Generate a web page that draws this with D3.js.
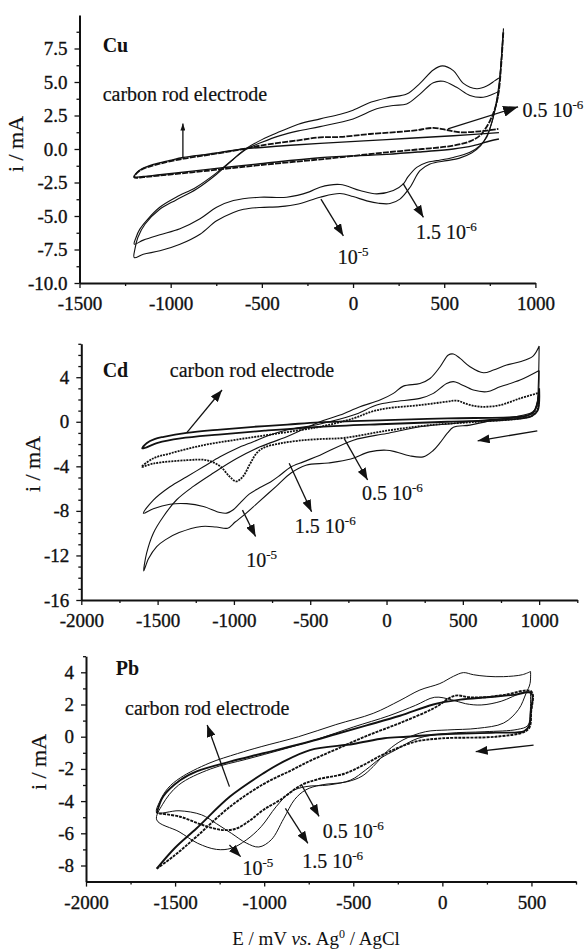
<!DOCTYPE html>
<html>
<head>
<meta charset="utf-8">
<script src="https://cdn.jsdelivr.net/npm/d3@7"></script>
<style>
  body { margin: 0; background: #fff; }
  text { font-family: "Liberation Serif", "Times New Roman", serif; fill: #111; }
</style>
</head>
<body>
<div id="chart"></div>
<script>
// ---------- data: each curve is a list of [E (mV), i (mA)] points ----------

// Cu
const cuCarbon = [[800,0.75],[750,0.6],[660,0.25],[550,0.0],[380,-0.2],[184,-0.4],[-181,-0.65],[-510,-1.1],[-784,-1.5],[-1059,-1.92],[-1150,-2.05],[-1200,-2.07],[-1185,-1.75],[-1160,-1.5],[-1095,-1.15],[-1004,-0.85],[-931,-0.63],[-785,-0.37],[-602,0.0],[-400,0.22],[-181,0.42],[184,0.7],[550,0.99],[800,1.22]];
const cu05 = [[824,8.7],[812,6.2],[798,4.2],[780,3.1],[751,2.1],[720,1.4],[696,1.0],[641,0.57],[550,0.25],[380,0.0],[184,-0.25],[-163,-0.75],[-510,-1.2],[-784,-1.6],[-1059,-1.98],[-1150,-2.1],[-1200,-2.12],[-1180,-1.72],[-1140,-1.42],[-1060,-1.1],[-930,-0.72],[-785,-0.42],[-600,0.0],[-510,0.25],[-300,0.65],[-181,0.87],[-71,0.9],[93,1.12],[330,1.37],[440,1.57],[513,1.42],[586,1.25],[696,1.32],[797,1.5]];
const cu15 = [[822,8.6],[812,6.5],[797,4.1],[780,3.0],[769,2.4],[750,1.5],[733,0.87],[696,0.25],[641,-0.25],[550,-0.63],[459,-0.87],[404,-1.0],[349,-1.37],[300,-2.1],[276,-2.6],[221,-3.1],[130,-3.35],[38,-3.1],[-71,-2.65],[-181,-2.85],[-240,-3.2],[-364,-3.6],[-510,-3.6],[-656,-3.85],[-748,-4.35],[-839,-5.2],[-949,-5.95],[-1059,-6.4],[-1150,-6.8],[-1200,-7.1],[-1190,-6.6],[-1170,-6.0],[-1130,-5.3],[-1060,-4.35],[-970,-3.6],[-860,-2.85],[-750,-1.8],[-660,-0.8],[-590,-0.05],[-500,0.5],[-400,1.0],[-300,1.35],[-181,1.67],[0,2.24],[130,3.0],[220,3.25],[294,3.36],[367,4.1],[440,4.95],[495,5.05],[568,4.6],[641,4.0],[714,3.86],[769,4.1],[800,4.3]];
const cu1e5 = [[825,9.0],[814,6.8],[800,4.8],[783,3.3],[762,2.0],[735,1.0],[700,0.25],[650,-0.3],[580,-0.7],[514,-0.87],[422,-1.12],[367,-1.62],[312,-2.87],[257,-3.74],[203,-4.07],[140,-4.05],[75,-3.87],[0,-3.55],[-72,-3.32],[-181,-3.6],[-300,-4.1],[-400,-4.3],[-510,-4.36],[-600,-4.5],[-656,-4.74],[-748,-5.36],[-839,-6.36],[-949,-7.11],[-1059,-7.6],[-1150,-7.85],[-1200,-8.1],[-1195,-7.4],[-1180,-6.6],[-1140,-5.6],[-1060,-4.5],[-970,-3.8],[-860,-3.0],[-750,-1.9],[-660,-0.8],[-590,0.0],[-500,0.7],[-400,1.3],[-300,1.85],[-180,2.25],[-70,2.6],[0,2.9],[100,3.5],[200,3.85],[294,4.1],[367,4.9],[440,5.9],[490,6.2],[550,5.85],[605,4.9],[678,4.5],[733,4.7],[778,5.1],[800,5.3]];

// Cd
const cdCarbon = [[1000,3.0],[990,1.0],[950,0.5],[800,0.2],[400,0.0],[0,-0.2],[-440,-0.45],[-800,-0.8],[-1100,-1.15],[-1350,-1.5],[-1500,-1.9],[-1600,-2.4],[-1570,-1.9],[-1520,-1.55],[-1460,-1.35],[-1310,-1.0],[-1090,-0.7],[-870,-0.45],[-650,-0.25],[-440,-0.05],[0,0.15],[400,0.3],[800,0.4],[900,0.5],[960,0.8],[990,1.8],[1000,3.0]];
const cd05 = [[1000,2.6],[990,1.2],[960,0.6],[875,0.3],[600,0.0],[285,-0.3],[0,-0.8],[-278,-1.45],[-436,-1.55],[-577,-1.7],[-700,-1.95],[-800,-2.3],[-850,-2.8],[-895,-3.8],[-940,-4.9],[-985,-5.35],[-1030,-4.9],[-1090,-4.0],[-1178,-3.45],[-1309,-3.45],[-1528,-3.75],[-1604,-4.05],[-1530,-3.3],[-1420,-2.85],[-1200,-2.1],[-980,-1.6],[-760,-1.15],[-545,-0.7],[-436,-0.45],[-217,0.3],[-100,0.9],[0,1.2],[219,1.5],[394,1.8],[460,1.9],[525,1.6],[613,1.35],[744,1.5],[875,2.1],[1000,2.6]];
const cd15 = [[1000,4.6],[992,2.0],[970,1.0],[930,0.6],[875,0.4],[600,0.1],[438,-0.15],[219,-0.45],[0,-1.05],[-217,-1.65],[-436,-3.0],[-545,-3.6],[-632,-4.1],[-698,-4.8],[-760,-5.4],[-829,-5.9],[-900,-6.5],[-960,-7.3],[-1004,-7.9],[-1047,-8.2],[-1091,-8.15],[-1200,-7.6],[-1309,-7.35],[-1419,-7.4],[-1528,-7.8],[-1593,-8.22],[-1528,-7.03],[-1419,-5.83],[-1309,-4.93],[-1200,-4.04],[-1091,-3.14],[-982,-2.39],[-873,-1.79],[-763,-1.19],[-654,-0.74],[-436,-0.2],[-217,0.6],[-64,1.5],[45,1.8],[219,2.1],[307,2.55],[394,3.44],[438,3.6],[482,3.4],[569,2.85],[657,2.7],[744,3.14],[875,3.74],[1000,4.6]];
const cd1e5 = [[1000,6.8],[995,3.5],[985,1.5],[960,0.9],[900,0.6],[700,0.15],[547,-0.3],[438,-0.5],[400,-1.0],[350,-1.9],[304,-2.6],[240,-3.15],[150,-3.05],[60,-2.7],[0,-2.55],[-112,-2.7],[-234,-3.35],[-381,-3.7],[-528,-3.9],[-626,-4.6],[-723,-5.8],[-846,-7.3],[-919,-8.2],[-992,-9.0],[-1041,-9.55],[-1115,-9.45],[-1212,-9.4],[-1359,-9.95],[-1450,-10.6],[-1506,-11.2],[-1560,-12.3],[-1591,-13.4],[-1572,-11.8],[-1528,-10.0],[-1462,-8.5],[-1375,-7.0],[-1266,-5.8],[-1135,-4.6],[-982,-3.3],[-829,-2.25],[-654,-1.35],[-436,0.0],[-305,0.6],[-174,1.35],[-43,1.95],[45,2.55],[110,3.2],[219,3.44],[285,3.89],[351,4.94],[405,5.99],[438,6.08],[482,5.69],[547,4.94],[635,4.4],[700,4.64],[787,5.09],[875,5.39],[960,5.9],[1000,6.8]];

// Pb
const pbCarbon = [[-1603,-4.75],[-1566,-3.7],[-1472,-2.7],[-1379,-2.15],[-1192,-1.55],[-1005,-1.03],[-743,-0.3],[-600,0.15],[-425,0.7],[-238,1.3],[-51,2.0],[100,2.3],[250,2.45],[400,2.6],[500,2.7],[497,1.6],[488,0.7],[460,0.35],[300,0.25],[0,0.15],[-200,0.0],[-326,-0.1],[-500,-0.45],[-743,-0.83],[-900,-1.6],[-1005,-2.28],[-1192,-3.72],[-1379,-5.69],[-1500,-6.9],[-1603,-8.2]];
const pb05 = [[-1603,-8.2],[-1500,-7.35],[-1379,-6.2],[-1192,-4.35],[-1005,-2.95],[-850,-2.1],[-743,-1.5],[-600,-0.8],[-425,0.05],[-238,0.85],[-51,1.75],[72,2.55],[150,2.45],[239,2.45],[350,2.6],[500,2.8],[498,1.5],[490,0.6],[460,0.3],[300,0.0],[0,-0.1],[-150,-0.3],[-250,-0.7],[-350,-1.2],[-450,-1.8],[-550,-2.3],[-700,-2.65],[-790,-3.0],[-911,-3.93],[-1005,-4.55],[-1080,-5.2],[-1155,-5.7],[-1229,-5.8],[-1342,-5.5],[-1472,-4.97],[-1603,-4.75]];
const pb15 = [[495,2.8],[493,1.5],[480,0.7],[420,0.45],[239,0.31],[30,0.21],[-137,-0.1],[-263,-0.83],[-347,-1.34],[-431,-2.07],[-514,-2.69],[-640,-3.0],[-766,-3.1],[-849,-3.41],[-933,-4.35],[-1017,-5.59],[-1101,-6.42],[-1184,-6.93],[-1268,-7.0],[-1373,-6.62],[-1478,-5.9],[-1603,-5.17],[-1570,-4.2],[-1480,-3.0],[-1300,-2.0],[-1100,-1.4],[-900,-0.8],[-700,-0.15],[-500,0.6],[-300,1.3],[-150,1.95],[-43,2.45],[50,2.3],[130,2.05],[218,1.97],[330,2.2],[449,2.74],[495,2.8]];
const pb1e5 = [[495,4.05],[492,3.3],[470,2.7],[428,1.7],[344,0.85],[198,0.52],[30,0.42],[-95,0.31],[-221,-0.2],[-305,-0.85],[-388,-1.85],[-451,-2.45],[-535,-2.8],[-682,-3.0],[-766,-3.3],[-829,-3.9],[-891,-5.1],[-960,-6.4],[-1030,-6.85],[-1101,-6.6],[-1184,-6.0],[-1268,-5.4],[-1352,-4.85],[-1478,-4.6],[-1603,-4.7],[-1585,-4.0],[-1540,-3.2],[-1470,-2.55],[-1310,-1.65],[-1150,-1.05],[-1017,-0.62],[-807,0.0],[-598,0.75],[-388,1.45],[-238,2.25],[-126,2.9],[-14,3.3],[62,3.75],[118,3.98],[174,3.85],[250,3.75],[344,3.73],[449,3.85],[495,4.05]];

// tick values
const cuXTicks = [-1500, -1000, -500, 0, 500, 1000];
const cuYTicks = [-10, -7.5, -5, -2.5, 0, 2.5, 5, 7.5];
const cdXTicks = [-2000, -1500, -1000, -500, 0, 500, 1000];
const cdYTicks = [-16, -12, -8, -4, 0, 4];
const pbXTicks = [-2000, -1500, -1000, -500, 0, 500];
const pbYTicks = [-8, -6, -4, -2, 0, 2, 4];

const W = 585, H = 949;
const svg = d3.select("#chart").append("svg")
  .attr("width", W).attr("height", H);
svg.append("rect").attr("width", W).attr("height", H).attr("fill", "#fff");

// arrow heads
const defs = svg.append("defs");
function marker(id, len, half) {
  defs.append("marker")
    .attr("id", id)
    .attr("markerUnits", "userSpaceOnUse")
    .attr("viewBox", `0 ${-half} ${len} ${2 * half}`)
    .attr("markerWidth", len).attr("markerHeight", 2 * half)
    .attr("refX", len).attr("refY", 0)
    .attr("orient", "auto")
    .append("path")
    .attr("d", `M0,${-half}L${len},0L0,${half}Z`)
    .attr("fill", "#111");
}
marker("headBig", 15, 5.5);
marker("headMed", 12, 4.5);
marker("headSmall", 7, 2.5);

function range(a, b, step) { return d3.range(a, b + step / 2, step); }

function drawPanel(p) {
  const x = d3.scaleLinear().domain(p.xDomain).range(p.xRange);
  const y = d3.scaleLinear().domain(p.yDomain).range(p.yRange);
  const g = svg.append("g");
  const y0 = p.yRange[0], x0 = p.xRange[0];

  // minor ticks
  g.append("g").attr("transform", `translate(0,${y0})`)
    .call(d3.axisBottom(x).tickValues(p.xMinor).tickSize(3).tickSizeOuter(0).tickFormat(""))
    .call(a => a.select(".domain").remove());
  g.append("g").attr("transform", `translate(${x0},0)`)
    .call(d3.axisLeft(y).tickValues(p.yMinor).tickSize(3).tickSizeOuter(0).tickFormat(""))
    .call(a => a.select(".domain").remove());

  // major axes
  const xa = g.append("g").attr("transform", `translate(0,${y0})`)
    .call(d3.axisBottom(x).tickValues(p.xTicks).tickSize(5).tickSizeOuter(0).tickPadding(9).tickFormat(d => String(d)));
  const ya = g.append("g").attr("transform", `translate(${x0},0)`)
    .call(d3.axisLeft(y).tickValues(p.yTicks).tickSize(5).tickSizeOuter(0).tickPadding(7).tickFormat(p.yFormat));
  [xa, ya].forEach(a => {
    a.select(".domain").attr("stroke", "#111").attr("stroke-width", 2);
    a.selectAll("text")
      .attr("font-family", "Liberation Serif").attr("font-size", 19)
      .attr("fill", "#111").attr("stroke", "#111").attr("stroke-width", 0.35);
  });
  g.selectAll(".tick line").attr("stroke", "#111").attr("stroke-width", 1.3);

  // y title
  g.append("text")
    .attr("transform", `translate(${p.yTitle[0]},${p.yTitle[1]}) rotate(-90)`)
    .attr("text-anchor", "middle").attr("dominant-baseline", "middle")
    .attr("font-size", 22).attr("stroke", "#111").attr("stroke-width", 0.2)
    .text("i / mA");

  // curves
  const line = d3.line()
    .x(d => x(d[0])).y(d => y(d[1]))
    .curve(d3.curveCatmullRom.alpha(0.5));
  p.series.forEach(s => {
    g.append("path").datum(s.data)
      .attr("d", line)
      .attr("fill", "none")
      .attr("stroke", "#111")
      .attr("stroke-width", s.w)
      .attr("stroke-dasharray", s.dash || null)
      .attr("stroke-linejoin", "round");
  });

  // arrows
  p.arrows.forEach(a => {
    g.append("line")
      .attr("x1", x(a[0])).attr("y1", y(a[1]))
      .attr("x2", x(a[2])).attr("y2", y(a[3]))
      .attr("stroke", "#111").attr("stroke-width", 1.3)
      .attr("marker-end", `url(#${a[4]})`);
  });

  // labels
  p.labels.forEach(l => {
    const t = g.append("text")
      .attr("x", x(l.at[0])).attr("y", y(l.at[1]))
      .attr("font-size", l.size || 20)
      .attr("font-weight", l.bold ? "bold" : "normal")
      .attr("stroke", "#111").attr("stroke-width", l.bold ? 0 : 0.2);
    t.append("tspan").text(l.text);
    if (l.sup) {
      t.append("tspan").attr("dy", -8).attr("font-size", 13).text(l.sup);
    }
  });
}

drawPanel({
  xDomain: [-1500, 1000], xRange: [79.5, 535.4],
  yDomain: [-10, 10], yRange: [283, 15],
  xTicks: cuXTicks, xMinor: range(-1250, 750, 500),
  yTicks: cuYTicks, yMinor: range(-8.75, 8.75, 2.5),
  yFormat: d => d.toFixed(1),
  yTitle: [17.5, 144],
  series: [
    {data: cuCarbon, w: 1.4},
    {data: cu05, w: 1.8, dash: "6,1.2"},
    {data: cu15, w: 1.1},
    {data: cu1e5, w: 1.1}
  ],
  arrows: [
    [-933, -0.63, -933, 1.9, "headSmall"],
    [520, 1.5, 905, 3.15, "headBig"],
    [274, -2.57, 386, -5.1, "headMed"],
    [-176, -3.74, -53, -6.48, "headMed"]
  ],
  labels: [
    {text: "Cu", at: [-1373, 7.23], bold: true, size: 20},
    {text: "carbon rod electrode", at: [-1373, 3.61]},
    {text: "0.5 10", sup: "-6", at: [929, 2.36]},
    {text: "1.5 10", sup: "-6", at: [345, -6.73]},
    {text: "10", sup: "-5", at: [-84, -8.6]}
  ]
});

drawPanel({
  xDomain: [-2000, 1250], xRange: [81.3, 577.3],
  yDomain: [-16, 7], yRange: [600, 343.8],
  xTicks: cdXTicks, xMinor: range(-1750, 1250, 500),
  yTicks: cdYTicks, yMinor: range(-15, 7, 1).filter(v => v % 4 !== 0),
  yFormat: d => String(d),
  yTitle: [34.5, 464],
  series: [
    {data: cdCarbon, w: 1.8},
    {data: cd05, w: 1.8, dash: "2,1"},
    {data: cd15, w: 1.1},
    {data: cd1e5, w: 1.1}
  ],
  arrows: [
    [-1310, -0.99, -1078, 2.85, "headMed"],
    [-278, -1.49, -124, -5.23, "headMed"],
    [-638, -3.73, -491, -8.08, "headMed"],
    [-944, -7.93, -858, -10.3, "headMed"],
    [988, -0.81, 597, -1.71, "headMed"]
  ],
  labels: [
    {text: "Cd", at: [-1860, 4.01], bold: true, size: 20},
    {text: "carbon rod electrode", at: [-1420, 4.04]},
    {text: "0.5 10", sup: "-6", at: [-161, -7.03]},
    {text: "1.5 10", sup: "-6", at: [-601, -10.02]},
    {text: "10", sup: "-5", at: [-919, -13.02]}
  ]
});

drawPanel({
  xDomain: [-2000, 750], xRange: [86, 576],
  yDomain: [-9, 5], yRange: [881.6, 656.2],
  xTicks: pbXTicks, xMinor: range(-1750, 750, 500),
  yTicks: pbYTicks, yMinor: range(-7, 5, 2),
  yFormat: d => String(d),
  yTitle: [41, 762],
  series: [
    {data: pbCarbon, w: 1.9},
    {data: pb05, w: 1.9, dash: "3,1"},
    {data: pb15, w: 1.0},
    {data: pb1e5, w: 1.0}
  ],
  arrows: [
    [-1195, -3.1, -1320, 0.73, "headMed"],
    [-790, -3.0, -692, -4.95, "headMed"],
    [-881, -4.45, -755, -6.62, "headMed"],
    [-1195, -6.73, -1132, -7.45, "headMed"],
    [512, -0.52, 187, -0.93, "headMed"]
  ],
  labels: [
    {text: "Pb", at: [-1833, 3.83], bold: true, size: 20},
    {text: "carbon rod electrode", at: [-1781, 1.35]},
    {text: "0.5 10", sup: "-6", at: [-671, -6.31]},
    {text: "1.5 10", sup: "-6", at: [-787, -8.17]},
    {text: "10", sup: "-5", at: [-1122, -8.59]}
  ]
});

// x title
const xt = svg.append("text")
  .attr("x", 316).attr("y", 945)
  .attr("text-anchor", "middle")
  .attr("font-size", 19).attr("fill", "#222");
xt.append("tspan").text("E / mV ");
xt.append("tspan").attr("font-style", "italic").text("vs.");
xt.append("tspan").text(" Ag");
xt.append("tspan").attr("dy", -7).attr("font-size", 12).text("0");
xt.append("tspan").attr("dy", 7).text(" / AgCl");
</script>
</body>
</html>
